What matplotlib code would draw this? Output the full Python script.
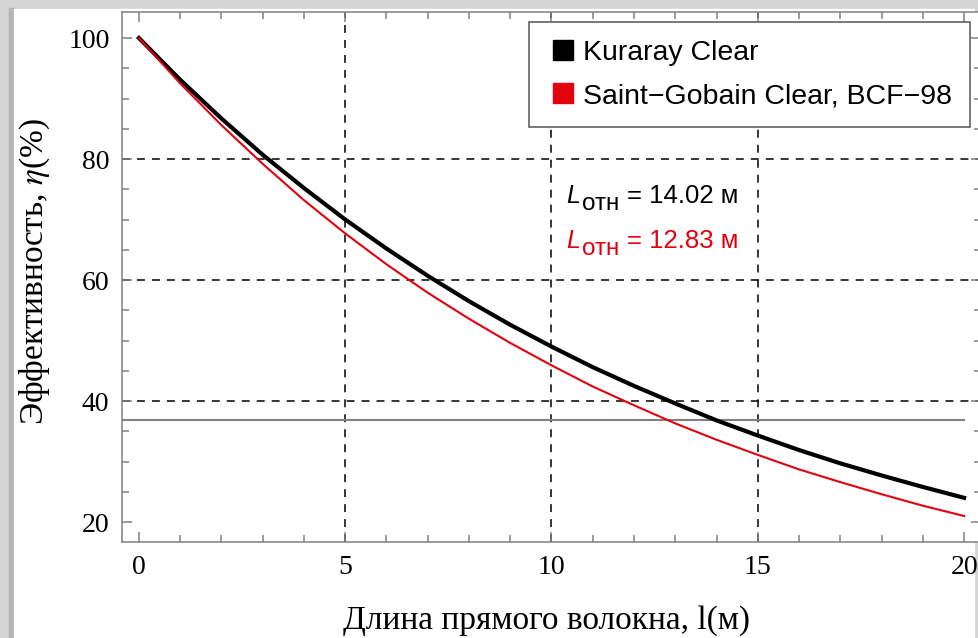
import numpy as np
import matplotlib
matplotlib.use("Agg")
import matplotlib.pyplot as plt
from matplotlib.lines import Line2D

plt.rcParams['mathtext.fontset'] = 'stix'

# fibre length, m
length_m = [0, 1, 2, 3, 4, 5, 6, 7, 8, 9, 10, 11, 12, 13, 14, 15, 16, 17, 18, 19, 20]
# efficiency, %
kuraray = [100, 93.1, 86.7, 80.7, 75.2, 70.0, 65.2, 60.7, 56.5, 52.6, 49.0,
           45.6, 42.5, 39.6, 36.8, 34.3, 31.9, 29.7, 27.7, 25.8, 24.0]
saint_gobain = [100, 92.5, 85.6, 79.2, 73.2, 67.7, 62.6, 57.9, 53.6, 49.6, 45.9,
                42.4, 39.3, 36.3, 33.6, 31.1, 28.7, 26.6, 24.6, 22.7, 21.0]
level_1e = 36.79

series_names = ["Kuraray Clear", "Saint\u2212Gobain Clear, BCF\u221298"]
series_colors = ["black", "#e3000f"]
att_lengths = ["14.02", "12.83"]

fig = plt.figure(figsize=(9.79, 6.38), dpi=100)

# grey frame/shadow around the picture
bg = fig.add_axes([0, 0, 1, 1], zorder=-5)
bg.set_axis_off()
bg.set_xlim(0, 979)
bg.set_ylim(638, 0)
bg.add_patch(plt.Rectangle((0, 0), 979, 638, color="#d4d4d4"))
bg.add_patch(plt.Rectangle((9, 8), 5, 630, color="#b4b4b4"))
bg.add_patch(plt.Rectangle((14, 9), 960, 629, color="white"))

ax = fig.add_axes([122 / 979, (638 - 542) / 638, (981 - 122) / 979, (542 - 12) / 638])
ax.set_xlim(-0.41, 20.41)
ax.set_ylim(16.7, 104.3)

# dashed grid
for gx in [5, 10, 15]:
    ax.axvline(gx, color="black", lw=1.1, ls=(0, (5.2, 4.6)), zorder=1)
for gy in [40, 60, 80]:
    ax.axhline(gy, color="black", lw=1.1, ls=(0, (5.2, 4.6)), zorder=1)

ax.plot([-0.41, 20], [level_1e, level_1e], color="#808080", lw=1.5, zorder=2)

ax.plot(length_m, kuraray, color=series_colors[0], lw=3.0, zorder=3)
ax.plot(length_m, saint_gobain, color=series_colors[1], lw=1.5, zorder=4)

for s in ax.spines.values():
    s.set_color("#808080")
    s.set_linewidth(1.1)

ax.set_xticks([0, 5, 10, 15, 20])
ax.set_xticks(np.arange(0, 21, 1), minor=True)
ax.set_yticks([20, 40, 60, 80, 100])
ax.set_yticks(np.arange(20, 101, 5), minor=True)
ax.tick_params(which="both", direction="in", top=True, right=True, color="#808080", width=1.1)
ax.tick_params(which="major", length=7, pad=9, labelsize=20)
ax.tick_params(which="minor", length=5)
for lab in ax.get_xticklabels() + ax.get_yticklabels():
    lab.set_fontfamily("Liberation Serif")

ax.set_xlabel("Длина прямого волокна, l(м)", fontfamily="Liberation Serif", fontsize=24)
ax.set_ylabel("Эффективность, $\\eta$(%)", fontfamily="Liberation Serif", fontsize=24)
ax.xaxis.set_label_coords((547 - 122) / 859, -(629 - 542) / 530)
ax.xaxis.label.set_va("baseline")
ax.yaxis.set_label_coords(-(122 - 35) / 859, (542 - 272) / 530)
ax.yaxis.label.set_va("center")

handles = [Line2D([], [], ls="none", marker="s", markersize=15, color=c) for c in series_colors]
leg = ax.legend(handles, series_names, loc="upper right", bbox_to_anchor=(0.987, 0.981),
                borderaxespad=0, fancybox=False, framealpha=1, handlelength=1.2,
                handletextpad=0.1, borderpad=0.62, labelspacing=0.62,
                prop={"family": "Liberation Sans", "size": 20.5})
leg.get_frame().set_edgecolor("#555555")
leg.get_frame().set_linewidth(1.1)

# attenuation length labels
for i, (lval, col) in enumerate(zip(att_lengths, series_colors)):
    yb = [72.7, 65.3][i]
    ax.text(10.36, yb, "L", color=col, fontfamily="Liberation Sans", fontstyle="italic",
            fontsize=18, va="baseline")
    ax.text(10.74, yb - 1.2, "отн", color=col, fontfamily="Liberation Sans",
            fontsize=17.5, va="baseline")
    ax.text(11.84, yb, "= " + lval + " м", color=col, fontfamily="Liberation Sans",
            fontsize=18.5, va="baseline")

fig.savefig("out.png", dpi=100)
